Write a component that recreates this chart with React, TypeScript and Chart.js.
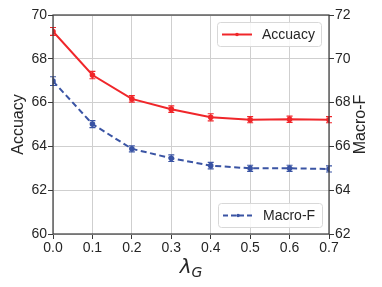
import React, { useEffect, useRef } from "react";
import { Chart, registerables } from "chart.js";
Chart.register(...registerables);

const lambdas = [0.0, 0.1, 0.2, 0.3, 0.4, 0.5, 0.6, 0.7];
const accuracy = [69.25, 67.26, 66.17, 65.7, 65.33, 65.22, 65.24, 65.22];
const accuracyErr = [0.18, 0.17, 0.15, 0.15, 0.16, 0.14, 0.14, 0.14];
const macroF = [68.98, 67.02, 65.89, 65.46, 65.12, 65.0, 65.0, 64.97];
const macroFErr = [0.2, 0.16, 0.14, 0.15, 0.15, 0.14, 0.14, 0.14];
const xTicks = [0.0, 0.1, 0.2, 0.3, 0.4, 0.5, 0.6, 0.7];

const RED = "#f0262a";
const BLUE = "#3a54a4";
const FONT = "'Liberation Sans', Arial, sans-serif";
const MATH = "'DejaVu Sans', sans-serif";
const TEXT = "#262626";

const errorBarPlugin = {
  id: "errorBars",
  afterDatasetsDraw(chart: any) {
    const ctx = chart.ctx;
    const xs = chart.scales.x;
    const sets = [
      { vals: accuracy, errs: accuracyErr, axis: "y", color: RED },
      { vals: macroF, errs: macroFErr, axis: "y1", color: BLUE },
    ];
    ctx.save();
    sets.forEach((s) => {
      const ys = chart.scales[s.axis];
      ctx.strokeStyle = s.color;
      ctx.lineWidth = 1.2;
      s.vals.forEach((v, i) => {
        const px = xs.getPixelForValue(lambdas[i]);
        const top = ys.getPixelForValue(v + s.errs[i]);
        const bot = ys.getPixelForValue(v - s.errs[i]);
        ctx.beginPath();
        ctx.moveTo(px, top);
        ctx.lineTo(px, bot);
        ctx.moveTo(px - 3, top);
        ctx.lineTo(px + 3, top);
        ctx.moveTo(px - 3, bot);
        ctx.lineTo(px + 3, bot);
        ctx.stroke();
      });
    });
    ctx.restore();
  },
};

const decorPlugin = {
  id: "decor",
  afterDraw(chart: any) {
    const ctx = chart.ctx;
    const a = chart.chartArea;
    ctx.save();
    // frame
    ctx.strokeStyle = "#3a3a3a";
    ctx.lineWidth = 1.2;
    ctx.strokeRect(a.left, a.top, a.right - a.left, a.bottom - a.top);

    // legends
    const drawLegend = (x: number, y: number, w: number, h: number, color: string, dash: number[], label: string) => {
      ctx.fillStyle = "rgba(255,255,255,0.85)";
      ctx.strokeStyle = "#d8d8d8";
      ctx.lineWidth = 1;
      ctx.beginPath();
      (ctx as any).roundRect(x + 0.5, y + 0.5, w, h, 3);
      ctx.fill();
      ctx.stroke();
      const ly = y + h / 2 + 0.5;
      ctx.strokeStyle = color;
      ctx.lineWidth = 2;
      ctx.setLineDash(dash);
      ctx.beginPath();
      ctx.moveTo(x + 5, ly);
      ctx.lineTo(x + 35, ly);
      ctx.stroke();
      ctx.setLineDash([]);
      ctx.fillStyle = color;
      ctx.beginPath();
      ctx.arc(x + 20, ly, 1.8, 0, Math.PI * 2);
      ctx.fill();
      ctx.fillStyle = TEXT;
      ctx.font = `14px ${FONT}`;
      ctx.textBaseline = "middle";
      ctx.textAlign = "left";
      ctx.fillText(label, x + 45, ly + 1);
    };
    drawLegend(217, 22, 104, 24, RED, [], "Accuacy");
    drawLegend(218, 203, 104, 24, BLUE, [5, 3], "Macro-F");

    // axis titles
    ctx.fillStyle = TEXT;
    ctx.textBaseline = "middle";
    ctx.textAlign = "center";
    ctx.font = `16px ${FONT}`;
    const cy = (a.top + a.bottom) / 2;
    ctx.save();
    ctx.translate(19, cy);
    ctx.rotate(-Math.PI / 2);
    ctx.fillText("Accuacy", 0, 0);
    ctx.restore();
    ctx.save();
    ctx.translate(361, cy);
    ctx.rotate(-Math.PI / 2);
    ctx.fillText("Macro-F", 0, 0);
    ctx.restore();

    // x title lambda_G
    const cx = (a.left + a.right) / 2;
    ctx.font = `italic 20px ${MATH}`;
    ctx.textAlign = "left";
    ctx.textBaseline = "alphabetic";
    const lw = ctx.measureText("λ").width;
    ctx.font = `italic 14px ${MATH}`;
    const gw = ctx.measureText("G").width;
    const start = cx - (lw + gw) / 2;
    ctx.font = `italic 20px ${MATH}`;
    ctx.fillText("λ", start, 273);
    ctx.font = `italic 14px ${MATH}`;
    ctx.fillText("G", start + lw, 277);
    ctx.restore();
  },
};

export default function App() {
  const ref = useRef<HTMLCanvasElement>(null);
  useEffect(() => {
    if (!ref.current) return;
    const chart = new Chart(ref.current, {
      type: "line",
      data: {
        datasets: [
          {
            label: "Accuacy",
            data: lambdas.map((x, i) => ({ x, y: accuracy[i] })),
            borderColor: RED,
            backgroundColor: RED,
            borderWidth: 2,
            pointRadius: 1.8,
            pointHoverRadius: 1.8,
            yAxisID: "y",
            tension: 0,
          },
          {
            label: "Macro-F",
            data: lambdas.map((x, i) => ({ x, y: macroF[i] })),
            borderColor: BLUE,
            backgroundColor: BLUE,
            borderWidth: 2,
            borderDash: [6, 3.5],
            pointRadius: 1.8,
            pointHoverRadius: 1.8,
            yAxisID: "y1",
            tension: 0,
          },
        ],
      },
      options: {
        animation: false,
        responsive: false,
        events: [],
        layout: { padding: { top: 15, bottom: 0, left: 0, right: 0 } },
        plugins: { legend: { display: false }, tooltip: { enabled: false } },
        scales: {
          x: {
            type: "linear",
            min: 0,
            max: 0.7,
            afterBuildTicks: (s: any) => {
              s.ticks = xTicks.map((v) => ({ value: v }));
            },
            afterFit: (s: any) => {
              s.height = 53;
            },
            ticks: {
              font: { family: FONT, size: 14 },
              color: TEXT,
              padding: 1,
              callback: (v: any) => Number(v).toFixed(1),
              maxRotation: 0,
            },
            grid: { color: "#cfcfcf", lineWidth: 1, tickLength: 5, tickColor: "#3a3a3a" },
            border: { display: false },
          },
          y: {
            position: "left",
            min: 60,
            max: 70,
            ticks: { stepSize: 2, font: { family: FONT, size: 14 }, color: TEXT, padding: 1 },
            afterFit: (s: any) => {
              s.width = 53;
            },
            grid: { color: "#cfcfcf", lineWidth: 1, tickLength: 5, tickColor: "#3a3a3a" },
            border: { display: false },
          },
          y1: {
            position: "right",
            min: 62,
            max: 72,
            ticks: { stepSize: 2, font: { family: FONT, size: 14 }, color: TEXT, padding: 1 },
            afterFit: (s: any) => {
              s.width = 53;
            },
            grid: { drawOnChartArea: false, tickLength: 5, tickColor: "#3a3a3a" },
            border: { display: false },
          },
        },
      },
      plugins: [errorBarPlugin, decorPlugin],
    } as any);
    return () => chart.destroy();
  }, []);
  return (
    <div style={{ position: "fixed", left: 0, top: 0, width: 382, height: 287, background: "#fff" }}>
      <canvas ref={ref} width={382} height={287} style={{ width: 382, height: 287 }} />
    </div>
  );
}
